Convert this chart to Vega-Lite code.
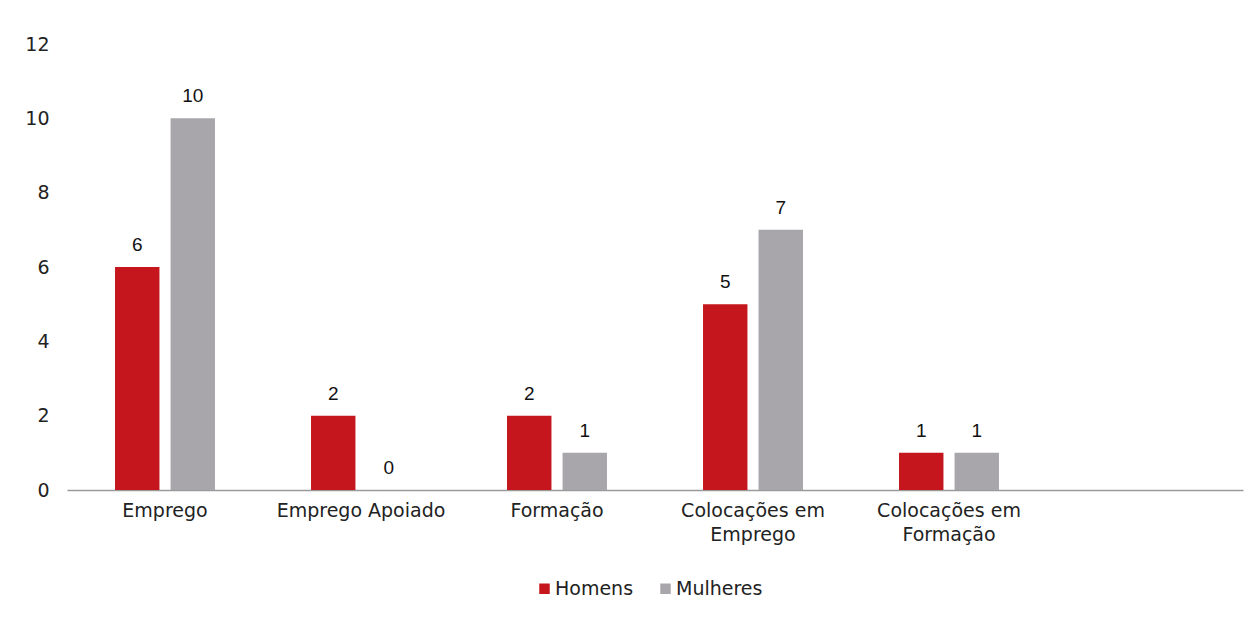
{
  "$schema": "https://vega.github.io/schema/vega-lite/v6.json",
  "width": 1176,
  "height": 446,
  "autosize": {"type": "none"},
  "padding": {"left": 67, "top": 44, "right": 15, "bottom": 129},
  "background": "white",
  "config": {"view": {"stroke": null}, "font": "DejaVu Sans"},
  "data": {
    "values": [
      {"categoria": "Emprego", "sexo": "Homens", "valor": 6},
      {"categoria": "Emprego", "sexo": "Mulheres", "valor": 10},
      {"categoria": "Emprego Apoiado", "sexo": "Homens", "valor": 2},
      {"categoria": "Emprego Apoiado", "sexo": "Mulheres", "valor": 0},
      {"categoria": "Formação", "sexo": "Homens", "valor": 2},
      {"categoria": "Formação", "sexo": "Mulheres", "valor": 1},
      {"categoria": "Colocações em Emprego", "sexo": "Homens", "valor": 5},
      {"categoria": "Colocações em Emprego", "sexo": "Mulheres", "valor": 7},
      {"categoria": "Colocações em Formação", "sexo": "Homens", "valor": 1},
      {"categoria": "Colocações em Formação", "sexo": "Mulheres", "valor": 1}
    ]
  },
  "encoding": {
    "x": {
      "field": "categoria",
      "type": "nominal",
      "sort": null,
      "scale": {
        "domain": ["Emprego", "Emprego Apoiado", "Formação", "Colocações em Emprego", "Colocações em Formação", " "],
        "paddingInner": 0.49,
        "paddingOuter": 0.245
      },
      "axis": {
        "title": null,
        "labelAngle": 0,
        "ticks": false,
        "domainColor": "#9a9a9a",
        "domainWidth": 1.5,
        "labelPadding": 11,
        "labelFontSize": 19,
        "labelColor": "#222222",
        "labelLineHeight": 24,
        "labelExpr": "datum.label == 'Colocações em Emprego' ? ['Colocações em', 'Emprego'] : datum.label == 'Colocações em Formação' ? ['Colocações em', 'Formação'] : datum.label"
      }
    },
    "xOffset": {
      "field": "sexo",
      "type": "nominal",
      "scale": {"domain": ["Homens", "Mulheres"], "paddingInner": 0.2, "paddingOuter": 0}
    },
    "y": {
      "field": "valor",
      "type": "quantitative",
      "scale": {"domain": [0, 12], "nice": false},
      "axis": {
        "title": null,
        "values": [0, 2, 4, 6, 8, 10, 12],
        "grid": false,
        "domain": false,
        "ticks": false,
        "labelPadding": 18,
        "labelFontSize": 19,
        "labelColor": "#222222"
      }
    }
  },
  "layer": [
    {
      "mark": {"type": "bar"},
      "encoding": {
        "color": {
          "field": "sexo",
          "type": "nominal",
          "scale": {"domain": ["Homens", "Mulheres"], "range": ["#c4161c", "#a8a6aa"]},
          "legend": {
            "title": null,
            "orient": "none",
            "direction": "horizontal",
            "legendX": 468,
            "legendY": 535,
            "symbolType": "square",
            "symbolSize": 110,
            "symbolStrokeWidth": 0,
            "labelFontSize": 19,
            "labelColor": "#222222",
            "labelOffset": 1,
            "columnPadding": 22
          }
        }
      }
    },
    {
      "mark": {"type": "text", "baseline": "bottom", "dy": -12, "fontSize": 19, "font": "Liberation Sans", "color": "#111111"},
      "encoding": {
        "text": {"field": "valor", "type": "quantitative"}
      }
    }
  ]
}
